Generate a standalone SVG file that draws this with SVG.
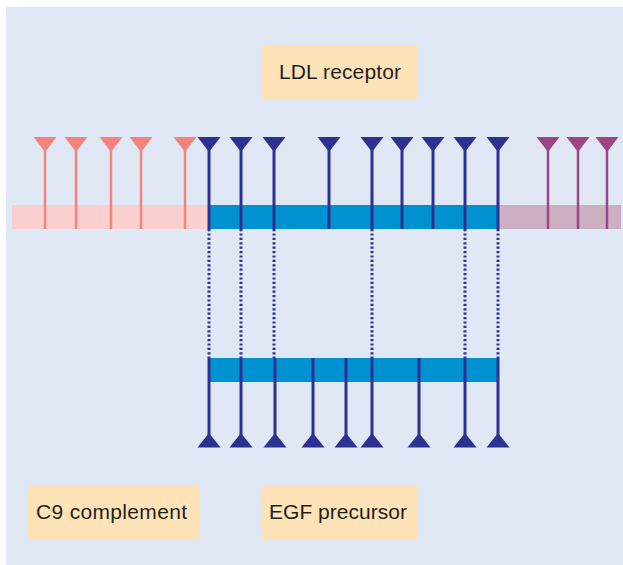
<svg xmlns="http://www.w3.org/2000/svg" width="623" height="565" viewBox="0 0 623 565">
  <defs>
    <style>
      .label-box { fill: #FFE3B8; }
      .label { font-family: "Liberation Sans", Arial, sans-serif; font-size: 21px; fill: #231F20; }
      .stem-pink { stroke: #F4837D; stroke-width: 2.5; fill: none; }
      .stem-blue { stroke: #2E3192; stroke-width: 3; fill: none; }
      .stem-purple { stroke: #9B4585; stroke-width: 2.5; fill: none; }
      .dotted { stroke: #2E3192; stroke-width: 3; stroke-dasharray: 2.2 2.2; fill: none; }
    </style>
    <!-- downward-pointing head for the upper domain row -->
    <polygon id="head-down" points="-11.5,0 11.5,0 0,15"/>
    <!-- upward-pointing head for the lower domain row -->
    <polygon id="head-up" points="-11.5,0 11.5,0 0,-14.5"/>
  </defs>

  <!-- panel background -->
  <rect x="6" y="7" width="617" height="558" fill="#E1E8F5"/>

  <!-- upper protein chain: C9 segment, LDL segment, tail segment -->
  <g id="chain-top">
    <rect x="12" y="205" width="197" height="24" fill="#F9D0CD"/>
    <rect x="208" y="205" width="290" height="24" fill="#0092D0"/>
    <rect x="498" y="205" width="123" height="24" fill="#CDAFC2"/>
  </g>

  <!-- lower protein chain -->
  <g id="chain-bottom">
    <rect x="208" y="358" width="290" height="24" fill="#0092D0"/>
  </g>

  <!-- upper domains -->
  <g id="domains-top">
    <g fill="#F4837D">
      <path class="stem-pink" d="M45,150V229M76,150V229M111,150V229M141,150V229M185,150V229"/>
      <use href="#head-down" x="45" y="137"/>
      <use href="#head-down" x="76" y="137"/>
      <use href="#head-down" x="111" y="137"/>
      <use href="#head-down" x="141" y="137"/>
      <use href="#head-down" x="185" y="137"/>
    </g>
    <g fill="#2E3192">
      <path class="stem-blue" d="M209,150V229M241,150V229M274,150V229M329,150V229M372,150V229M402,150V229M433,150V229M465,150V229M498,150V229"/>
      <use href="#head-down" x="209" y="137"/>
      <use href="#head-down" x="241" y="137"/>
      <use href="#head-down" x="274" y="137"/>
      <use href="#head-down" x="329" y="137"/>
      <use href="#head-down" x="372" y="137"/>
      <use href="#head-down" x="402" y="137"/>
      <use href="#head-down" x="433" y="137"/>
      <use href="#head-down" x="465" y="137"/>
      <use href="#head-down" x="498" y="137"/>
    </g>
    <g fill="#9B4585">
      <path class="stem-purple" d="M548,150V229M578,150V229M607,150V229"/>
      <use href="#head-down" x="548" y="137"/>
      <use href="#head-down" x="578" y="137"/>
      <use href="#head-down" x="607" y="137"/>
    </g>
  </g>

  <!-- lower domains -->
  <g id="domains-bottom" fill="#2E3192">
    <path class="stem-blue" d="M209,358V436M241,358V436M275,358V436M313,358V436M346,358V436M372,358V436M419,358V436M465,358V436M498,358V436"/>
    <use href="#head-up" x="209" y="447.5"/>
    <use href="#head-up" x="241" y="447.5"/>
    <use href="#head-up" x="275" y="447.5"/>
    <use href="#head-up" x="313" y="447.5"/>
    <use href="#head-up" x="346" y="447.5"/>
    <use href="#head-up" x="372" y="447.5"/>
    <use href="#head-up" x="419" y="447.5"/>
    <use href="#head-up" x="465" y="447.5"/>
    <use href="#head-up" x="498" y="447.5"/>
  </g>

  <!-- dotted correspondences between the two chains -->
  <g id="connectors">
    <path class="dotted" d="M209,229V358M241,229V358M274,229V358M372,229V358M465,229V358M498,229V358"/>
  </g>

  <g id="ldl-receptor">
    <rect class="label-box" x="261" y="45" width="157" height="54"/>
    <text class="label" x="279" y="78.5" textLength="122">LDL receptor</text>
  </g>

  <g id="c9-complement">
    <rect class="label-box" x="27" y="485" width="172" height="54"/>
    <text class="label" x="36" y="519" textLength="151">C9 complement</text>
  </g>

  <g id="egf-precursor">
    <rect class="label-box" x="261" y="485" width="157" height="54"/>
    <text class="label" x="269" y="519" textLength="138">EGF precursor</text>
  </g>
</svg>
